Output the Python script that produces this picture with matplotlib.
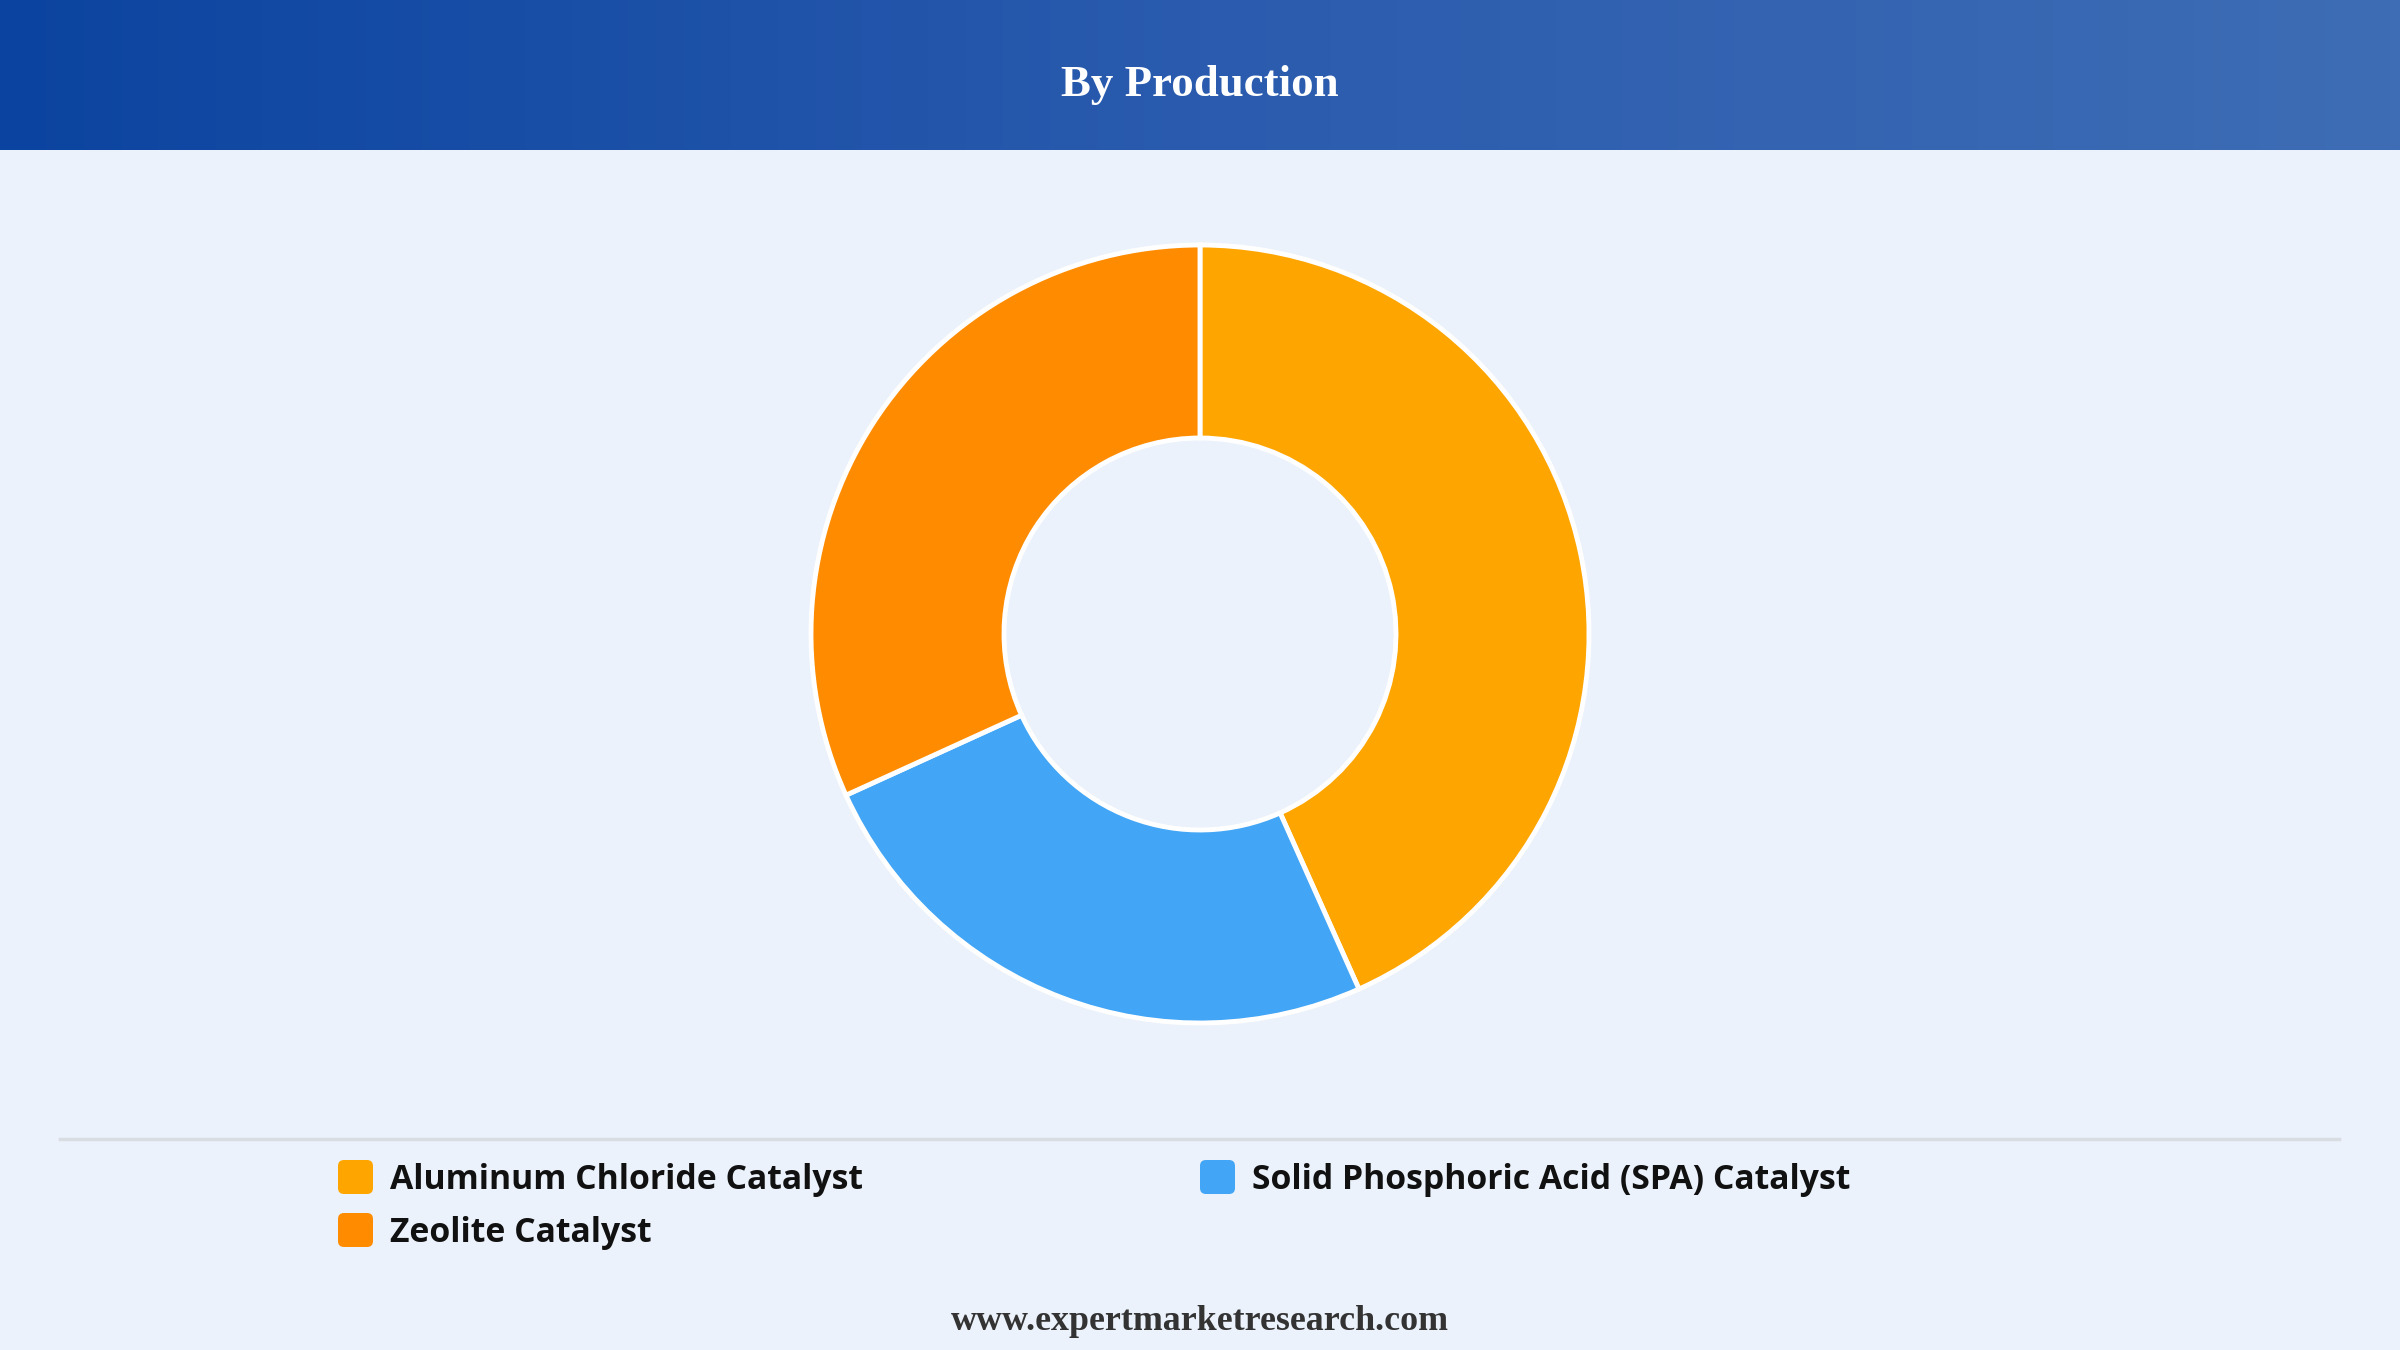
import matplotlib
matplotlib.use("Agg")
import matplotlib.pyplot as plt
import numpy as np
from matplotlib.colors import LinearSegmentedColormap
from matplotlib.patches import FancyBboxPatch

# data
labels = ["Aluminum Chloride Catalyst", "Solid Phosphoric Acid (SPA) Catalyst", "Zeolite Catalyst"]
shares = [43.3, 24.9, 31.8]
colors = ["#FFA500", "#42A5F5", "#FF8C00"]

title = "By Production"
footer = "www.expertmarketresearch.com"

W, H = 2400, 1350
bg = "#EBF2FB"

fig = plt.figure(figsize=(24, 13.5), dpi=100)
fig.patch.set_facecolor(bg)

# base axes in pixel coordinates
base = fig.add_axes([0, 0, 1, 1])
base.set_xlim(0, W)
base.set_ylim(H, 0)
base.axis("off")
base.set_facecolor(bg)

# header gradient
grad = np.linspace(0, 1, 256).reshape(1, -1)
cmap = LinearSegmentedColormap.from_list("hdr", ["#0B44A0", "#2A5BAE", "#3E6DB5"])
base.imshow(grad, cmap=cmap, extent=[0, W, 150, 0], aspect="auto", zorder=1)
base.text(W / 2, 85, title, color="white", fontsize=32.3, fontweight="bold",
          family="Liberation Serif", ha="center", va="center", zorder=2)

# separator
base.plot([60, 2339], [1139, 1139], color="#D8DDE3", lw=2.5, zorder=1)

# legend
legend_pos = [(338, 1177), (1200, 1177), (338, 1230)]
for (x, y), lab, col in zip(legend_pos, labels, colors):
    box = FancyBboxPatch((x, y - 17), 35, 34, boxstyle="round,pad=0,rounding_size=6",
                         facecolor=col, edgecolor="none", zorder=2)
    base.add_patch(box)
    base.text(x + 52, y + 3, lab, fontsize=24.3, fontweight="bold", family="Open Sans",
              color="#111111", ha="left", va="center", zorder=2)

# footer
base.text(W / 2, 1322, footer, fontsize=25.8, fontweight="bold", family="Liberation Serif",
          color="#333333", ha="center", va="center", zorder=2)

# donut
cx, cy, r_out, r_in = 1200, 634, 389, 196
half = 420
pie_ax = fig.add_axes([(cx - half) / W, (H - cy - half) / H, 2 * half / W, 2 * half / H])
pie_ax.pie(shares, colors=colors, startangle=90, counterclock=False, radius=r_out,
           wedgeprops=dict(width=r_out - r_in, edgecolor="white", linewidth=3.5))
pie_ax.set_xlim(-half, half)
pie_ax.set_ylim(-half, half)
pie_ax.set_aspect("equal")
pie_ax.axis("off")

fig.savefig("out.png", dpi=100, facecolor=bg)
